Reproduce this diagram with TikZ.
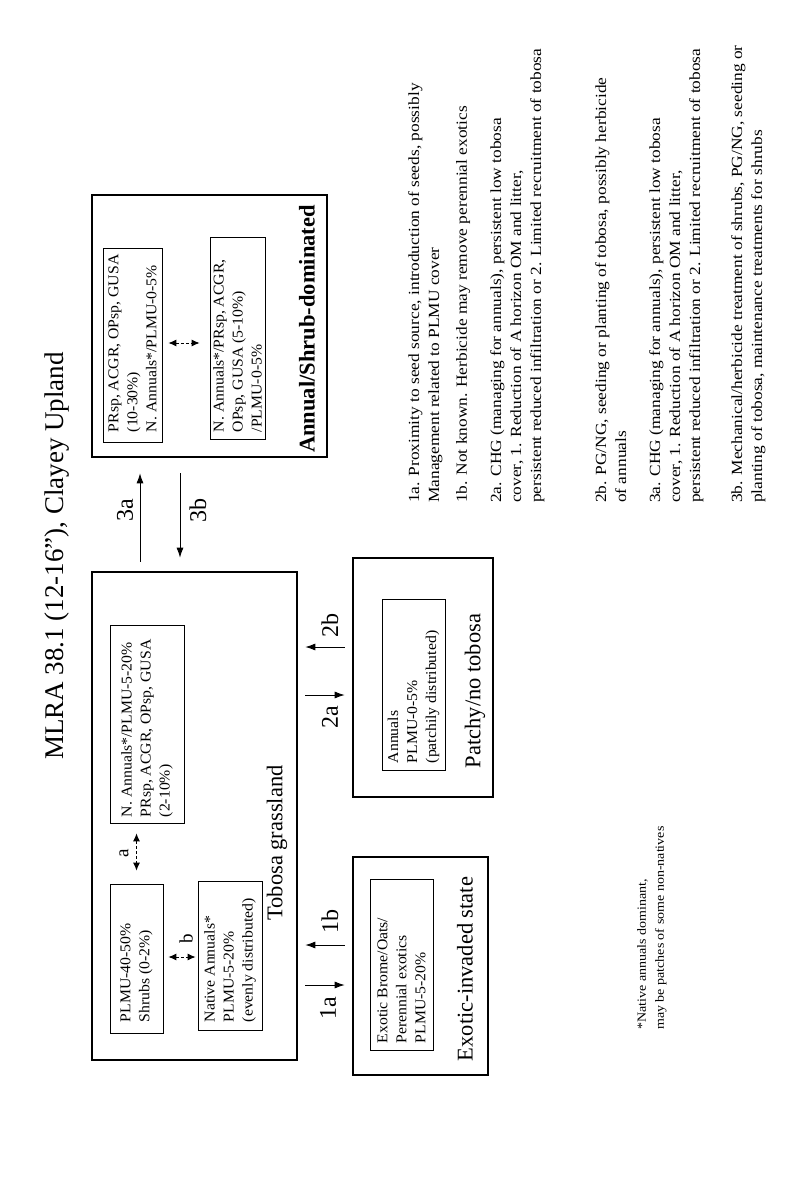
\documentclass[tikz,border=0pt]{standalone}
\usepackage{fontspec}
\setmainfont{Liberation Serif}
\newfontfamily\widefont{Liberation Serif}[FakeStretch=1.12]
\newfontfamily\boxfont{Liberation Serif}[FakeStretch=1.05]
\usetikzlibrary{arrows.meta,calc}
\begin{document}
\begin{tikzpicture}[x=1pt,y=-1pt,
  outerbox/.style={draw, line width=2.6pt, inner sep=0pt},
  innerbox/.style={draw, line width=0.8pt, inner sep=0pt},
  boxtext/.style={rotate=90, anchor=west, align=left, inner sep=0pt, font=\boxfont\fontsize{15}{19}\selectfont},
  statelabel/.style={rotate=90, inner sep=0pt, font=\fontsize{22.5}{26}\selectfont},
  trlabel/.style={rotate=90, inner sep=0pt, font=\fontsize{24}{28}\selectfont},
  smalllabel/.style={rotate=90, inner sep=0pt, font=\fontsize{19}{21}\selectfont},
  note/.style={rotate=90, anchor=north west, align=left, inner sep=0pt, font=\widefont\fontsize{15.5}{20}\selectfont},
  arr/.style={-{Latex[length=10pt,width=7pt]}, line width=0.9pt},
  darr/.style={{Latex[length=8pt,width=7pt]}-{Latex[length=8pt,width=7pt]}, line width=0.9pt, dash pattern=on 3pt off 2pt}]
\useasboundingbox (0,0) rectangle (800,1194);
\fill[white] (0,0) rectangle (800,1194);

% title
\node[rotate=90, inner sep=0pt, font=\fontsize{27}{32}\selectfont] (title) at (57,556) {MLRA 38.1 (12-16”), Clayey Upland};

% outer state boxes
\node[outerbox, minimum width=235pt, minimum height=262pt] (ann) at (209.5,326) {};
\node[outerbox, minimum width=205pt, minimum height=488pt] (tob) at (194.5,816) {};
\node[outerbox, minimum width=140pt, minimum height=239pt] (pat) at (423,677.5) {};
\node[outerbox, minimum width=135pt, minimum height=218pt] (exo) at (420.5,966) {};

% inner boxes
\node[innerbox, minimum width=59pt, minimum height=194pt] (ann1) at (132.5,345) {};
\node[innerbox, minimum width=55pt, minimum height=202pt] (ann2) at (237.5,338) {};
\node[innerbox, minimum width=74pt, minimum height=198pt] (tob1) at (147,724) {};
\node[innerbox, minimum width=53pt, minimum height=149pt] (tob2) at (136.5,958.5) {};
\node[innerbox, minimum width=64pt, minimum height=149pt] (tob3) at (230,955.5) {};
\node[innerbox, minimum width=63pt, minimum height=171pt] (pat1) at (413.5,684.5) {};
\node[innerbox, minimum width=63pt, minimum height=171pt] (exo1) at (401.5,964.5) {};

% inner texts
\node[boxtext] (ann1t) at ([yshift=10pt]ann1.south) {PRsp, ACGR, OPsp, GUSA\\(10-30\%)\\N. Annuals*/PLMU-0-5\%};
\node[boxtext] (ann2t) at ([yshift=7pt]ann2.south) {N. Annuals*/PRsp, ACGR,\\OPsp, GUSA (5-10\%)\\/PLMU-0-5\%};
\node[boxtext] (tob1t) at ([yshift=6pt]tob1.south) {N. Annuals*/PLMU-5-20\%\\PRsp, ACGR, OPsp, GUSA\\(2-10\%)};
\node[boxtext] (tob2t) at ([yshift=11pt]tob2.south) {PLMU-40-50\%\\Shrubs (0-2\%)};
\node[boxtext] (tob3t) at ([yshift=8pt]tob3.south) {Native Annuals*\\PLMU-5-20\%\\(evenly distributed)};
\node[boxtext] (pat1t) at ([yshift=7pt]pat1.south) {Annuals\\PLMU-0-5\%\\(patchily distributed)};
\node[boxtext] (exo1t) at ([yshift=7pt]exo1.south) {Exotic Brome/Oats/\\Perennial exotics\\PLMU-5-20\%};

% state labels
\node[statelabel, font=\bfseries\fontsize{22.5}{26}\selectfont] (annl) at (307,329) {Annual/Shrub-dominated};
\node[statelabel] (tobl) at (277,843) {Tobosa grassland};
\node[statelabel] (patl) at (475,691) {Patchy/no tobosa};
\node[statelabel] (exol) at (465,969) {Exotic-invaded state};

% transitions between states
\coordinate (x3a) at (140,0);
\coordinate (x3b) at (180,0);
\coordinate (y1a) at (0,985);
\coordinate (y1b) at (0,945);
\coordinate (y2a) at (0,695);
\coordinate (y2b) at (0,647);
\draw[arr, shorten <=9pt, shorten >=15pt] (x3a |- tob.north) -- (x3a |- ann.south);
\draw[arr, shorten <=15pt, shorten >=13pt] (x3b |- ann.south) -- (x3b |- tob.north);
\draw[arr, shorten <=7pt, shorten >=7pt] (tob.east |- y1a) -- (exo.west |- y1a);
\draw[arr, shorten <=7pt, shorten >=7pt] (exo.west |- y1b) -- (tob.east |- y1b);
\draw[arr, shorten <=7pt, shorten >=7pt] (tob.east |- y2a) -- (pat.west |- y2a);
\draw[arr, shorten <=7pt, shorten >=7pt] (pat.west |- y2b) -- (tob.east |- y2b);

\node[trlabel] (l3a) at (125,510) {3a};
\node[trlabel] (l3b) at (198,510) {3b};
\node[trlabel] (l1a) at (328,1008) {1a};
\node[trlabel] (l1b) at (330,921) {1b};
\node[trlabel] (l2a) at (330,717) {2a};
\node[trlabel] (l2b) at (330,625) {2b};

% community pathways
\coordinate (yb) at (0,957);
\coordinate (yc) at (0,343);
\draw[darr, shorten <=10pt, shorten >=13pt] (tob1.south -| tob2.north) -- (tob2.north);
\draw[darr, shorten <=5pt, shorten >=2pt] (tob2.east |- yb) -- (tob3.west |- yb);
\draw[darr, shorten <=6pt, shorten >=10pt] (ann1.east |- yc) -- (ann2.west |- yc);
\node[smalllabel] (la) at (124,853) {a};
\node[smalllabel] (lb) at (186,939) {b};

% notes
\node[note] (n1a) at (408,503) {1a. Proximity to seed source, introduction of seeds, possibly\\Management related to PLMU cover};
\node[note] (n1b) at (456,503) {1b. Not known. Herbicide may remove perennial exotics};
\node[note] (n2a) at (490,503) {2a. CHG (managing for annuals), persistent low tobosa\\cover, 1. Reduction of A horizon OM and litter,\\persistent reduced infiltration or 2. Limited recruitment of tobosa};
\node[note] (n2b) at (595,503) {2b. PG/NG, seeding or planting of tobosa, possibly herbicide\\of annuals};
\node[note] (n3a) at (649,503) {3a. CHG (managing for annuals), persistent low tobosa\\cover, 1. Reduction of A horizon OM and litter,\\persistent reduced infiltration or 2. Limited recruitment of tobosa};
\node[note] (n3b) at (731,503) {3b. Mechanical/herbicide treatment of shrubs, PG/NG, seeding or\\planting of tobosa, maintenance treatments for shrubs};
\node[note, font=\widefont\fontsize{12.5}{18}\selectfont] (foot) at (637,1030) {*Native annuals dominant,\\may be patches of some non-natives};
\end{tikzpicture}
\end{document}
